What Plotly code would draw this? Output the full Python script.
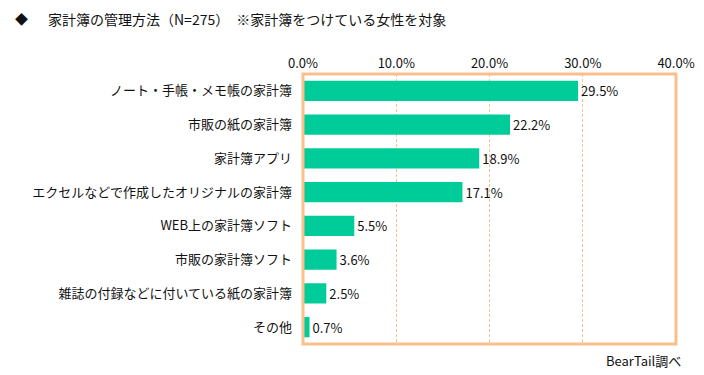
import plotly.graph_objects as go

categories = ["ノート・手帳・メモ帳の家計簿", "市販の紙の家計簿", "家計簿アプリ",
              "エクセルなどで作成したオリジナルの家計簿", "WEB上の家計簿ソフト",
              "市販の家計簿ソフト", "雑誌の付録などに付いている紙の家計簿", "その他"]
values = [29.5, 22.2, 18.9, 17.1, 5.5, 3.6, 2.5, 0.7]
tick_vals = [0, 10, 20, 30, 40]
tick_text = ["0.0%", "10.0%", "20.0%", "30.0%", "40.0%"]

FONT = "Noto Sans CJK JP"
BAR = "#00CC99"
ORANGE = "#F9BF8D"
TXT = "#111111"

L, T, PW, PH = 295, 66, 373, 270
W, H = 704, 375

fig = go.Figure(go.Bar(
    y=categories, x=values, orientation="h",
    marker=dict(color=BAR, line=dict(width=0)),
    width=0.6,
    text=[f"{v:.1f}%" for v in values], textposition="outside",
    textfont=dict(family=FONT, size=13, color=TXT),
    cliponaxis=False,
))

fig.update_layout(
    width=W, height=H,
    margin=dict(l=L, r=W - L - PW, t=T, b=H - T - PH),
    paper_bgcolor="white", plot_bgcolor="white",
    showlegend=False,
    font=dict(family=FONT, size=12, color=TXT),
    xaxis=dict(side="top", range=[0, 40], tickvals=tick_vals, ticktext=tick_text,
               showgrid=True, gridcolor=ORANGE, griddash="3px,2px", gridwidth=1,
               zeroline=False, showline=False, ticks="", ticklabelstandoff=2,
               tickfont=dict(family=FONT, size=13, color=TXT)),
    yaxis=dict(autorange="reversed", showgrid=False, zeroline=False, showline=False,
               ticks="", ticklabelstandoff=10,
               tickfont=dict(family=FONT, size=13, color=TXT)),
    shapes=[dict(type="rect", xref="paper", yref="paper", x0=0, x1=1, y0=0, y1=1,
                 line=dict(color=ORANGE, width=3), layer="above")],
    annotations=[
        dict(text="◆", xref="paper", yref="paper", x=(13 - L) / PW, y=1 + (T - 11) / PH,
             xanchor="center", yanchor="middle", showarrow=False,
             font=dict(family=FONT, size=13, color=TXT)),
        dict(text="家計簿の管理方法（N=275）　※家計簿をつけている女性を対象",
             xref="paper", yref="paper", x=(38 - L) / PW, y=1 + (T - 11) / PH,
             xanchor="left", yanchor="middle", showarrow=False,
             font=dict(family=FONT, size=14, color=TXT)),
        dict(text="BearTail調べ", xref="paper", yref="paper", x=1 + 7 / PW, y=-16 / PH,
             xanchor="right", yanchor="middle", showarrow=False,
             font=dict(family=FONT, size=13, color=TXT)),
    ],
)

fig.write_html("out.html")
